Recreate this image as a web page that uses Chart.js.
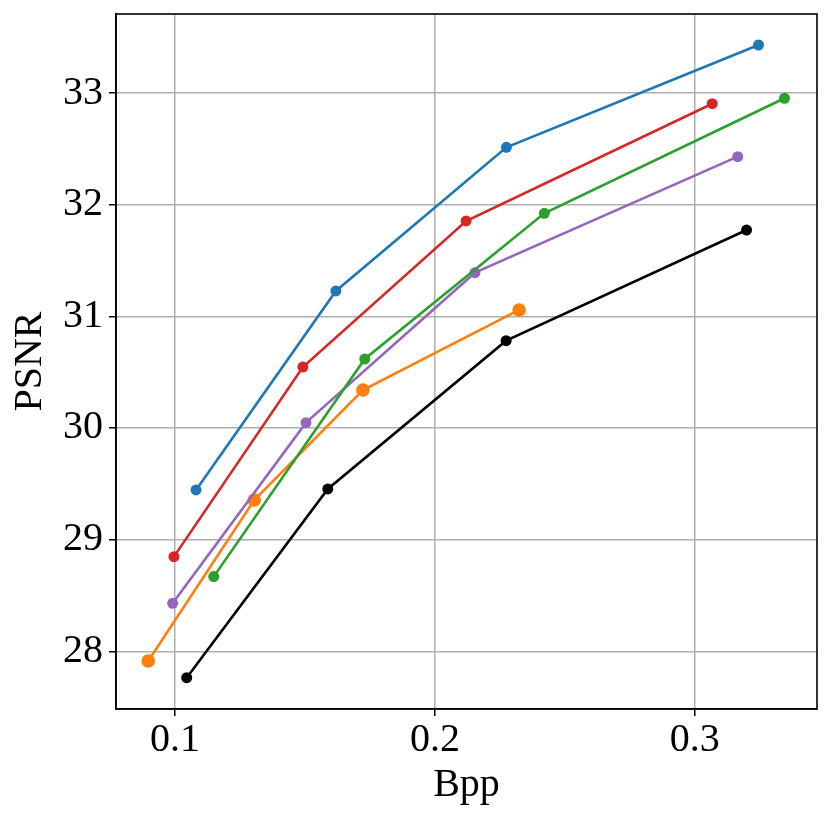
<!DOCTYPE html>
<html>
<head>
<meta charset="utf-8">
<script src="https://cdn.jsdelivr.net/npm/chart.js@4.4.0/dist/chart.umd.min.js"></script>
<style>
  html, body { margin: 0; padding: 0; background: #fff; }
  #wrap { width: 831px; height: 822px; position: relative; }
</style>
</head>
<body>
<div id="wrap"><canvas id="rdChart"></canvas></div>
<script>
// rate-distortion points
const blueBpp   = [0.1081, 0.1619, 0.2275, 0.3245];
const bluePsnr  = [29.445, 31.227, 32.514, 33.430];
const redBpp    = [0.0996, 0.1492, 0.2120, 0.3067];
const redPsnr   = [28.848, 30.546, 31.854, 32.904];
const greenBpp  = [0.1149, 0.1730, 0.2421, 0.3345];
const greenPsnr = [28.669, 30.618, 31.923, 32.953];
const purpleBpp  = [0.0991, 0.1504, 0.2154, 0.3165];
const purplePsnr = [28.430, 30.048, 31.391, 32.430];
const orangeBpp  = [0.0897, 0.1305, 0.1723, 0.2324];
const orangePsnr = [27.914, 29.355, 30.340, 31.057];
const blackBpp  = [0.1045, 0.1588, 0.2274, 0.3199];
const blackPsnr = [27.764, 29.454, 30.782, 31.773];

const xTicks = [0.1, 0.2, 0.3];
const yTicks = [28, 29, 30, 31, 32, 33];

function toPoints(xs, ys) {
  return xs.map((x, i) => ({ x: x, y: ys[i] }));
}

function series(xs, ys, color, radius) {
  return {
    data: toPoints(xs, ys),
    showLine: true,
    borderColor: color,
    backgroundColor: color,
    pointBackgroundColor: color,
    pointBorderWidth: 0,
    borderWidth: 2.6,
    pointRadius: radius,
    pointHoverRadius: radius
  };
}

const serif = "'Liberation Serif'";

// matplotlib style closed frame
const framePlugin = {
  id: 'frame',
  afterDraw(chart) {
    const { ctx, chartArea } = chart;
    ctx.save();
    ctx.strokeStyle = '#000';
    ctx.lineWidth = 1.6;
    ctx.strokeRect(chartArea.left, chartArea.top, chartArea.right - chartArea.left, chartArea.bottom - chartArea.top);
    ctx.restore();
  }
};

function drawChart() {
  const ctx = document.getElementById('rdChart').getContext('2d');
  new Chart(ctx, {
    type: 'scatter',
    data: {
      datasets: [
        series(blueBpp, bluePsnr, '#1f77b4', 5.5),
        series(redBpp, redPsnr, '#d62728', 5.5),
        series(greenBpp, greenPsnr, '#2ca02c', 5.5),
        series(purpleBpp, purplePsnr, '#9467bd', 5.5),
        series(orangeBpp, orangePsnr, '#ff7f0e', 6.8),
        series(blackBpp, blackPsnr, '#000000', 5.5)
      ]
    },
    options: {
      responsive: true,
      maintainAspectRatio: false,
      animation: false,
      layout: { padding: { top: 14, right: 14, left: 0, bottom: 0 } },
      plugins: {
        legend: { display: false },
        tooltip: { enabled: false }
      },
      scales: {
        x: {
          type: 'linear',
          min: 0.0773,
          max: 0.3470,
          afterBuildTicks: scale => { scale.ticks = xTicks.map(v => ({ value: v })); },
          afterFit: scale => { scale.height = 113; scale.paddingLeft = 0; scale.paddingRight = 0; },
          grid: { color: '#b0b0b0', lineWidth: 1.5, tickColor: '#000', tickLength: 7, tickWidth: 1.5 },
          border: { color: '#000', width: 1.6 },
          ticks: {
            autoSkip: false,
            maxRotation: 0,
            padding: 0,
            color: '#000',
            font: { family: serif, size: 40, lineHeight: 1.2 },
            callback: v => v.toFixed(1)
          },
          title: {
            display: true,
            text: 'Bpp',
            color: '#000',
            padding: { top: 0, bottom: 13 },
            font: { family: serif, size: 40, lineHeight: 1.2 }
          }
        },
        y: {
          type: 'linear',
          min: 27.4835,
          max: 33.7075,
          afterBuildTicks: scale => { scale.ticks = yTicks.map(v => ({ value: v })); },
          afterFit: scale => { scale.width = 116; scale.paddingTop = 0; scale.paddingBottom = 0; },
          grid: { color: '#b0b0b0', lineWidth: 1.5, tickColor: '#000', tickLength: 7, tickWidth: 1.5 },
          border: { color: '#000', width: 1.6 },
          ticks: {
            autoSkip: false,
            padding: 6,
            color: '#000',
            font: { family: serif, size: 40, lineHeight: 1.2 },
            callback: v => String(v)
          },
          title: {
            display: true,
            text: 'PSNR',
            color: '#000',
            padding: { top: 6, bottom: 0 },
            font: { family: serif, size: 40, lineHeight: 1.2 }
          }
        }
      }
    },
    plugins: [framePlugin]
  });
}

// make sure the serif face is ready before the canvas text is drawn
document.fonts.load("40px 'Liberation Serif'").then(drawChart, drawChart);
</script>
</body>
</html>
